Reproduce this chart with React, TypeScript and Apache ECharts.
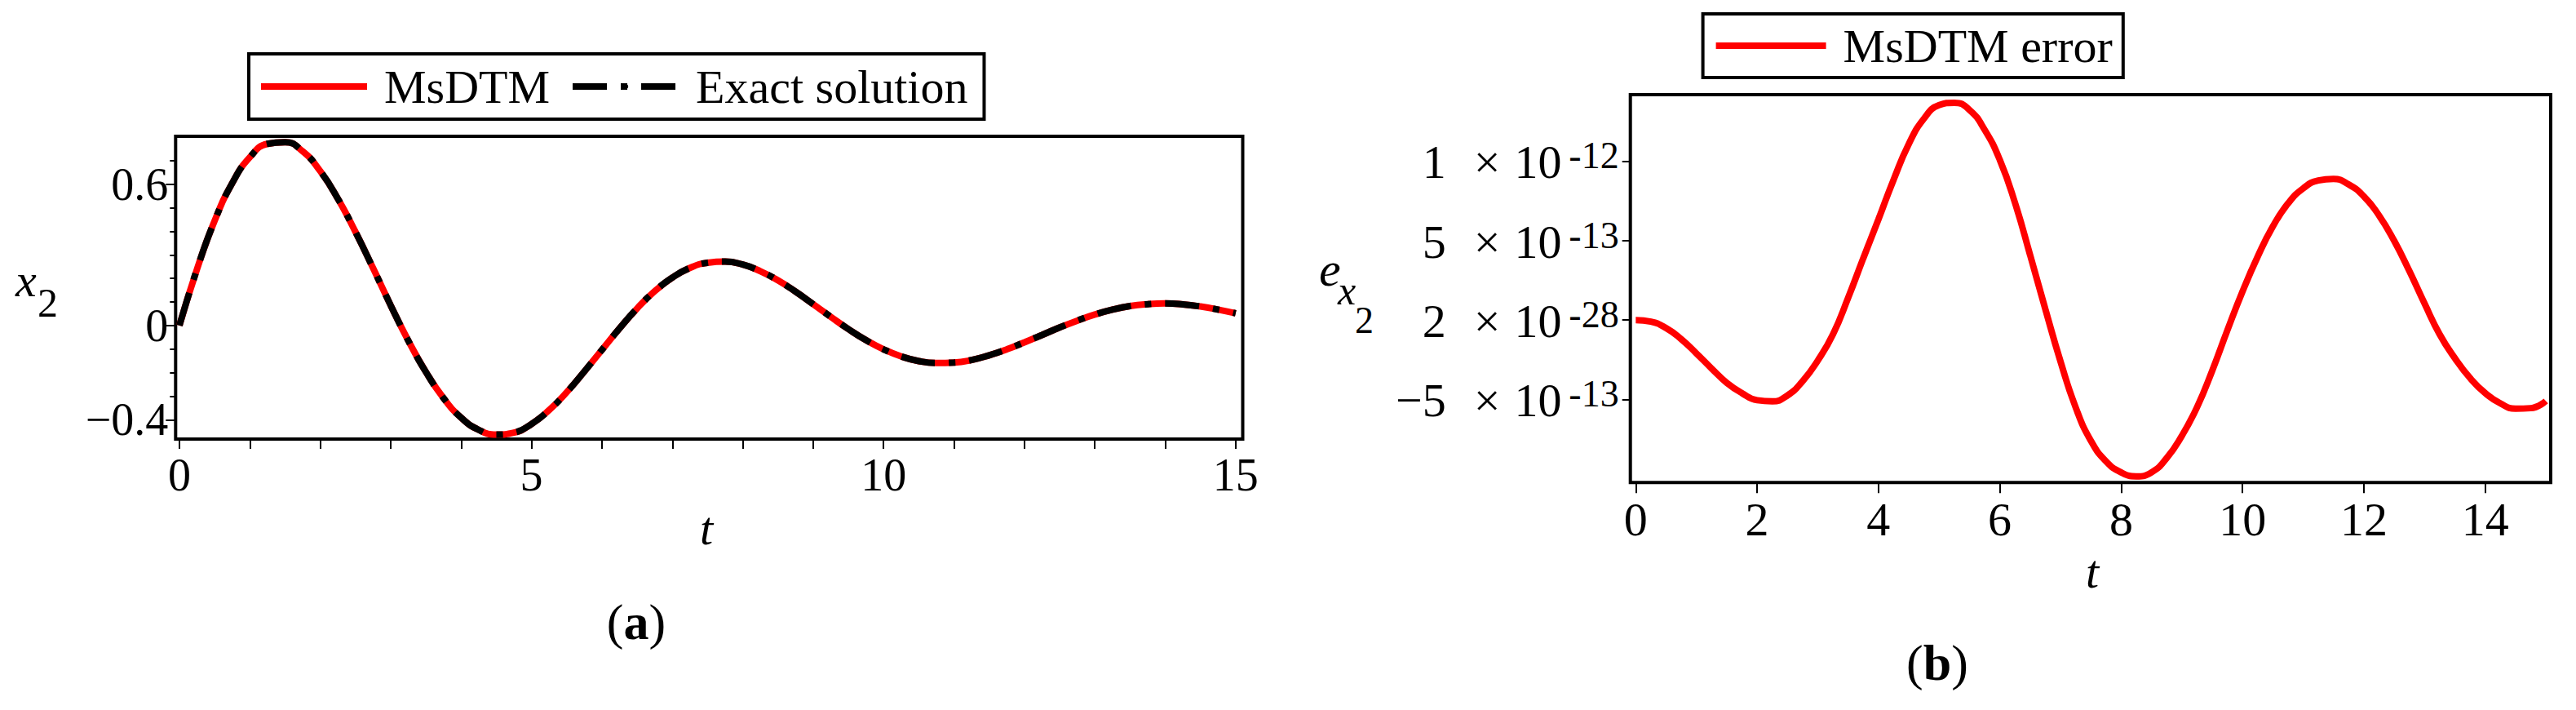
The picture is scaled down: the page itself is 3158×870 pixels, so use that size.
import React, { useEffect, useRef } from 'react';
import * as echarts from 'echarts';

const FONT = "'Liberation Serif', 'Times New Roman', serif";

// ---------- chart (a): x2(t) ----------
const tA = [0, 0.25, 0.5, 0.75, 1, 1.25, 1.5, 1.75, 2, 2.25, 2.5, 2.75, 3, 3.25, 3.5, 3.75, 4, 4.25, 4.5, 4.75, 5, 5.25, 5.5, 5.75, 6, 6.25, 6.5, 6.75, 7, 7.25, 7.5, 7.75, 8, 8.25, 8.5, 8.75, 9, 9.25, 9.5, 9.75, 10, 10.25, 10.5, 10.75, 11, 11.25, 11.5, 11.75, 12, 12.25, 12.5, 12.75, 13, 13.25, 13.5, 13.75, 14, 14.25, 14.5, 14.75, 15];
const msdtmX2 = [0, 0.24, 0.445, 0.605, 0.715, 0.772, 0.779, 0.74, 0.656, 0.539, 0.398, 0.244, 0.086, -0.064, -0.197, -0.308, -0.391, -0.443, -0.463, -0.455, -0.418, -0.359, -0.283, -0.195, -0.103, -0.012, 0.073, 0.146, 0.204, 0.245, 0.267, 0.272, 0.259, 0.231, 0.192, 0.144, 0.091, 0.037, -0.015, -0.062, -0.101, -0.131, -0.151, -0.159, -0.157, -0.146, -0.126, -0.101, -0.071, -0.04, -0.008, 0.021, 0.047, 0.068, 0.083, 0.091, 0.094, 0.09, 0.081, 0.068, 0.052];
const exactX2 = [0, 0.24, 0.445, 0.605, 0.715, 0.772, 0.779, 0.74, 0.656, 0.539, 0.398, 0.244, 0.086, -0.064, -0.197, -0.308, -0.391, -0.443, -0.463, -0.455, -0.418, -0.359, -0.283, -0.195, -0.103, -0.012, 0.073, 0.146, 0.204, 0.245, 0.267, 0.272, 0.259, 0.231, 0.192, 0.144, 0.091, 0.037, -0.015, -0.062, -0.101, -0.131, -0.151, -0.159, -0.157, -0.146, -0.126, -0.101, -0.071, -0.04, -0.008, 0.021, 0.047, 0.068, 0.083, 0.091, 0.094, 0.09, 0.081, 0.068, 0.052];
const xTicksA = [0, 1, 2, 3, 4, 5, 6, 7, 8, 9, 10, 11, 12, 13, 14, 15];
const xLabelsA = [0, 5, 10, 15];
const yLabelsA = [-0.4, 0, 0.6];
const yLabelTextA = ['\u22120.4', '0', '0.6'];
const yMinorTicksA = [-0.4, -0.3, -0.2, -0.1, 0, 0.1, 0.2, 0.3, 0.4, 0.5, 0.6, 0.7];

// ---------- chart (b): error ----------
const tB = [0, 0.25, 0.5, 0.75, 1, 1.25, 1.5, 1.75, 2, 2.25, 2.5, 2.75, 3, 3.25, 3.5, 3.75, 4, 4.25, 4.5, 4.75, 5, 5.25, 5.5, 5.75, 6, 6.25, 6.5, 6.75, 7, 7.25, 7.5, 7.75, 8, 8.25, 8.5, 8.75, 9, 9.25, 9.5, 9.75, 10, 10.25, 10.5, 10.75, 11, 11.25, 11.5, 11.75, 12, 12.25, 12.5, 12.75, 13, 13.25, 13.5, 13.75, 14, 14.25, 14.5, 14.75, 15];
// values in units of 1e-13
const errorB_e13 = [0, -0.1, -0.5, -1.2, -2.1, -3.05, -3.95, -4.6, -5.05, -5.12, -4.75, -3.85, -2.55, -0.9, 1.4, 3.9, 6.35, 8.85, 11.1, 12.7, 13.55, 13.7, 13.25, 12.0, 10.1, 7.4, 4.1, 0.7, -2.6, -5.5, -7.6, -8.9, -9.6, -9.85, -9.6, -8.7, -7.3, -5.5, -3.2, -0.65, 1.8, 4.0, 5.9, 7.35, 8.3, 8.8, 8.9, 8.55, 7.8, 6.6, 5.0, 3.1, 1.05, -0.9, -2.4, -3.65, -4.6, -5.25, -5.58, -5.55, -5.1];
const E13 = 1e-13;
const xTicksB = [0, 2, 4, 6, 8, 10, 12, 14];
const yTicksB = [-5e-13, 2e-28, 5e-13, 1e-12];
const yMantB = ['\u22125', '2', '5', '1'];
const yExpB = ['-13', '-28', '-13', '-12'];

const tickLine = { color: '#000', width: 2 };

function buildOption() {
  const dataMs = tA.map((t, i) => [t, msdtmX2[i]]);
  const dataEx = tA.map((t, i) => [t, exactX2[i]]);
  const dataErr = tB.map((t, i) => [t, errorB_e13[i] * E13]);

  const legendText = {
    fontFamily: FONT,
    fontSize: 58,
    color: '#000',
    lineHeight: 60,
    padding: [10, 0, 0, 16],
  };

  const baseTxt = { fontFamily: FONT, color: '#000' };
  const mainTok = { ...baseTxt, fontSize: 58, lineHeight: 60, verticalAlign: 'bottom' };

  return {
    animation: false,
    backgroundColor: '#fff',
    textStyle: { fontFamily: FONT },
    grid: [
      { left: 215.3, top: 167, width: 1308.2, height: 371, show: true, borderColor: '#000', borderWidth: 4, backgroundColor: 'transparent' },
      { left: 1998.7, top: 116, width: 1128.3, height: 475.3, show: true, borderColor: '#000', borderWidth: 4, backgroundColor: 'transparent' },
    ],
    legend: [
      {
        data: ['MsDTM', 'Exact solution'],
        left: 305,
        top: 66,
        orient: 'horizontal',
        itemWidth: 130,
        itemHeight: 8,
        itemGap: 24,
        padding: [5, 20, 5, 11],
        borderColor: '#000',
        borderWidth: 4,
        backgroundColor: '#fff',
        selectedMode: false,
        textStyle: legendText,
        lineStyle: { width: 8 },
      },
      {
        data: ['MsDTM error'],
        left: 2087.6,
        top: 17,
        orient: 'horizontal',
        itemWidth: 135,
        itemHeight: 8,
        padding: [4, 13, 4, 12],
        borderColor: '#000',
        borderWidth: 4,
        backgroundColor: '#fff',
        selectedMode: false,
        textStyle: legendText,
        lineStyle: { width: 8 },
      },
    ],
    xAxis: [
      {
        gridIndex: 0,
        type: 'value',
        position: 'bottom',
        min: -0.054,
        max: 15.1,
        axisLine: { show: false, onZero: false },
        splitLine: { show: false },
        axisTick: { show: true, customValues: xTicksA, length: 12, lineStyle: tickLine },
        axisLabel: { customValues: xLabelsA, fontFamily: FONT, fontSize: 56, color: '#000', margin: 16 },
      },
      {
        gridIndex: 1,
        type: 'value',
        position: 'bottom',
        min: -0.089,
        max: 15.08,
        axisLine: { show: false, onZero: false },
        splitLine: { show: false },
        axisTick: { show: true, customValues: xTicksB, length: 13, lineStyle: tickLine },
        axisLabel: { customValues: xTicksB, fontFamily: FONT, fontSize: 58, color: '#000', margin: 16 },
      },
    ],
    yAxis: [
      {
        gridIndex: 0,
        type: 'value',
        position: 'left',
        min: -0.482,
        max: 0.804,
        axisLine: { show: false, onZero: false },
        splitLine: { show: false },
        axisTick: { show: true, customValues: yLabelsA, length: 12, lineStyle: tickLine },
        axisLabel: {
          customValues: yLabelsA,
          fontFamily: FONT,
          fontSize: 56,
          color: '#000',
          margin: 9,
          formatter: (v: number) => {
            const i = yLabelsA.findIndex((x) => Math.abs(x - v) < 1e-9);
            return i >= 0 ? yLabelTextA[i] : '';
          },
        },
      },
      {
        gridIndex: 0,
        type: 'value',
        position: 'left',
        min: -0.482,
        max: 0.804,
        axisLine: { show: false, onZero: false },
        splitLine: { show: false },
        axisTick: { show: true, customValues: yMinorTicksA, length: 7, lineStyle: tickLine },
        axisLabel: { show: false },
      },
      {
        gridIndex: 1,
        type: 'value',
        position: 'left',
        min: -10.24e-13,
        max: 14.21e-13,
        axisLine: { show: false, onZero: false },
        splitLine: { show: false },
        axisTick: { show: true, customValues: yTicksB, length: 10, lineStyle: tickLine },
        axisLabel: {
          customValues: yTicksB,
          margin: 14,
          formatter: (v: number) => {
            const i = yTicksB.findIndex((x) => Math.abs(x - v) < 1e-15);
            if (i < 0) return '';
            return `{m|${yMantB[i]}}{x|\u00d7}{t|10}{s|${yExpB[i]}}`;
          },
          rich: {
            m: { ...mainTok, padding: [16, 34, 0, 0] },
            x: { ...mainTok, padding: [16, 17, 0, 0] },
            t: { ...mainTok, padding: [16, 9, 0, 0] },
            s: { ...baseTxt, fontSize: 46, lineHeight: 46, verticalAlign: 'top' },
          },
        },
      },
    ],
    series: [
      {
        name: 'MsDTM',
        type: 'line',
        xAxisIndex: 0,
        yAxisIndex: 0,
        data: dataMs,
        smooth: true,
        symbol: 'none',
        clip: false,
        z: 2,
        lineStyle: { color: '#ff0000', width: 8 },
        itemStyle: { color: '#ff0000' },
      },
      {
        name: 'Exact solution',
        type: 'line',
        xAxisIndex: 0,
        yAxisIndex: 0,
        data: dataEx,
        smooth: true,
        symbol: 'none',
        clip: false,
        z: 3,
        lineStyle: { color: '#000000', width: 8, type: [42, 17, 8, 17] },
        itemStyle: { color: '#000000' },
      },
      {
        name: 'MsDTM error',
        type: 'line',
        xAxisIndex: 1,
        yAxisIndex: 2,
        data: dataErr,
        smooth: true,
        symbol: 'none',
        clip: false,
        z: 2,
        lineStyle: { color: '#ff0000', width: 8 },
        itemStyle: { color: '#ff0000' },
      },
    ],
    graphic: [
      { type: 'text', x: 19, y: 343, style: { text: 'x', fontFamily: FONT, fontSize: 58, fontStyle: 'italic', fill: '#000', align: 'left', verticalAlign: 'middle' } },
      { type: 'text', x: 46, y: 371, style: { text: '2', fontFamily: FONT, fontSize: 50, fill: '#000', align: 'left', verticalAlign: 'middle' } },
      { type: 'text', x: 1617, y: 330, style: { text: 'e', fontFamily: FONT, fontSize: 60, fontStyle: 'italic', fill: '#000', align: 'left', verticalAlign: 'middle' } },
      { type: 'text', x: 1640, y: 356, style: { text: 'x', fontFamily: FONT, fontSize: 50, fontStyle: 'italic', fill: '#000', align: 'left', verticalAlign: 'middle' } },
      { type: 'text', x: 1661, y: 392, style: { text: '2', fontFamily: FONT, fontSize: 46, fill: '#000', align: 'left', verticalAlign: 'middle' } },
      { type: 'text', x: 866, y: 647, style: { text: 't', fontFamily: FONT, fontSize: 58, fontStyle: 'italic', fill: '#000', align: 'center', verticalAlign: 'middle' } },
      { type: 'text', x: 2565, y: 700, style: { text: 't', fontFamily: FONT, fontSize: 58, fontStyle: 'italic', fill: '#000', align: 'center', verticalAlign: 'middle' } },
      {
        type: 'text', x: 780, y: 762,
        style: {
          text: '{p|(}{b|a}{p|)}', align: 'center', verticalAlign: 'middle',
          rich: { p: { fontFamily: FONT, fontSize: 62, fill: '#000', color: '#000' }, b: { fontFamily: FONT, fontSize: 62, fontWeight: 'bold', fill: '#000', color: '#000' } },
        },
      },
      {
        type: 'text', x: 2375, y: 812,
        style: {
          text: '{p|(}{b|b}{p|)}', align: 'center', verticalAlign: 'middle',
          rich: { p: { fontFamily: FONT, fontSize: 62, fill: '#000', color: '#000' }, b: { fontFamily: FONT, fontSize: 62, fontWeight: 'bold', fill: '#000', color: '#000' } },
        },
      },
    ],
  };
}

export default function App() {
  const ref = useRef<HTMLDivElement>(null);
  useEffect(() => {
    if (!ref.current) return;
    const chart = echarts.init(ref.current, null, { renderer: 'svg' });
    chart.setOption(buildOption() as any);
    return () => chart.dispose();
  }, []);
  return (
    <div
      ref={ref}
      style={{ position: 'absolute', left: 0, top: 0, width: 3158, height: 870, background: '#fff' }}
    />
  );
}
